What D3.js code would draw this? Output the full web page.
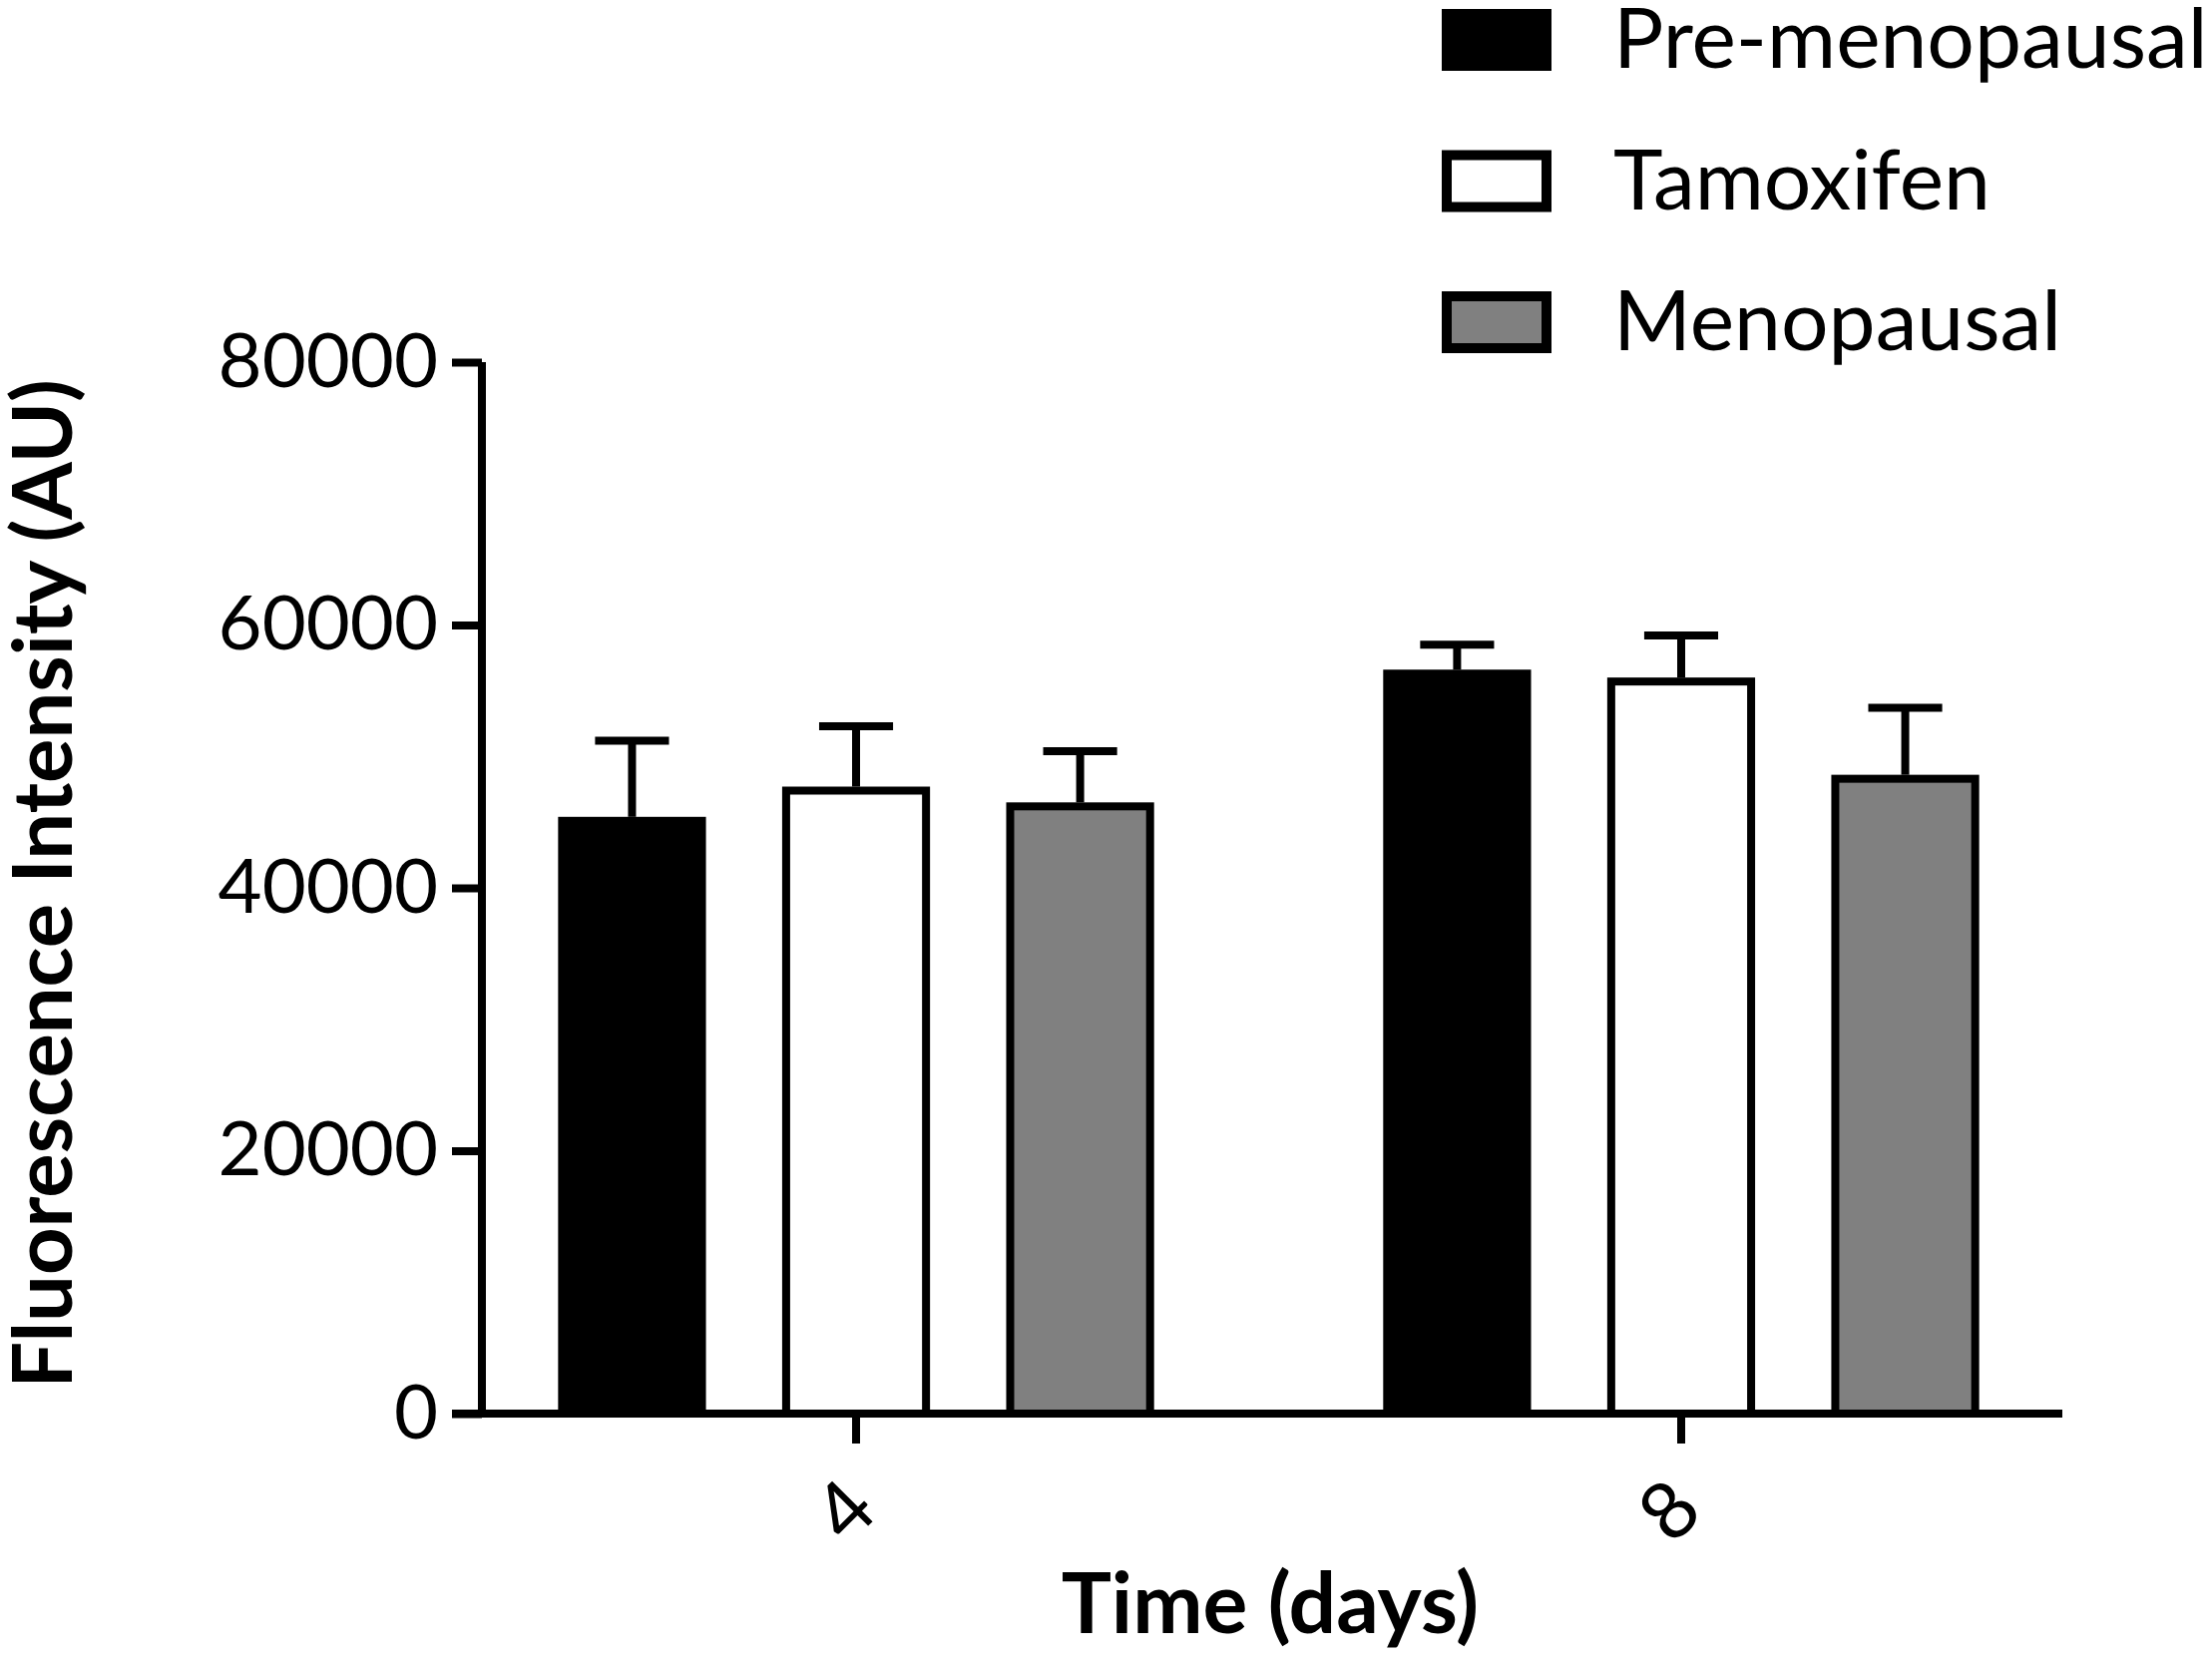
<!DOCTYPE html>
<html>
<head>
<meta charset="utf-8">
<script src="https://cdn.jsdelivr.net/npm/d3@7"></script>
<style>
  html, body { margin: 0; padding: 0; background: #fff; }
  svg { display: block; }
</style>
</head>
<body>
<svg id="chart" width="2217" height="1664"></svg>
<script>
// ---- data ----
const days = ["4", "8"];
const series = ["Pre-menopausal", "Tamoxifen", "Menopausal"];
const day4Means = [45100, 47400, 46200];
const day8Means = [56300, 55700, 48300];
const day4SEM = [6100, 4900, 4200];
const day8SEM = [2200, 3500, 5400];
const yTicks = [0, 20000, 40000, 60000, 80000];
const seriesFill = ["#000000", "#ffffff", "#808080"];

const meansByDay = { "4": day4Means, "8": day8Means };
const semByDay = { "4": day4SEM, "8": day8SEM };
const rows = [];
days.forEach(d => series.forEach((s, i) => rows.push({
  day: d, series: s, idx: i, mean: meansByDay[d][i], sem: semByDay[d][i]
})));

const svg = d3.select("#chart");
const FONT = "Lato, 'Open Sans', sans-serif";
const LW = 8;

const axisX = 483, plotRight = 2067;
const y = d3.scaleLinear().domain([0, 80000]).range([1417, 363]);
const x0 = d3.scaleBand().domain(days).range([axisX, 2060]).paddingInner(0.093).paddingOuter(0);
const x1 = d3.scaleBand().domain(series).range([0, x0.bandwidth()]).padding(0.34);
const fill = d3.scaleOrdinal().domain(series).range(seriesFill);

// bars
const bw = x1.bandwidth();
svg.append("g").selectAll("rect").data(rows).join("rect")
  .attr("x", d => x0(d.day) + x1(d.series) + LW / 2)
  .attr("y", d => y(d.mean))
  .attr("width", bw - LW)
  .attr("height", d => y(0) - y(d.mean))
  .attr("fill", d => fill(d.series))
  .attr("stroke", "#000")
  .attr("stroke-width", LW);

// error bars (upper only)
const eg = svg.append("g").attr("stroke", "#000").attr("stroke-width", LW);
rows.forEach(d => {
  const cx = x0(d.day) + x1(d.series) + bw / 2;
  eg.append("line").attr("x1", cx).attr("x2", cx)
    .attr("y1", y(d.mean) - LW / 2).attr("y2", y(d.mean + d.sem));
  eg.append("line").attr("x1", cx - bw / 4).attr("x2", cx + bw / 4)
    .attr("y1", y(d.mean + d.sem)).attr("y2", y(d.mean + d.sem));
});

// y axis
const yAxis = d3.axisLeft(y).tickValues(yTicks).tickSize(30).tickPadding(14).tickFormat(d3.format("d"));
const gy = svg.append("g").attr("transform", `translate(${axisX},0)`).call(yAxis);
gy.select(".domain").attr("d", `M0,${y(80000)}V${y(0)}`).attr("stroke-width", LW);
gy.selectAll(".tick line").attr("stroke-width", LW);
gy.selectAll(".tick text").attr("font-family", FONT).attr("font-size", 76).attr("fill", "#000");

// x axis
const xCenter = d => x0(d) + x0.bandwidth() / 2;
const gx = svg.append("g").attr("transform", `translate(0,${y(0)})`);
gx.append("line").attr("x1", axisX - 30).attr("x2", plotRight).attr("y1", 0).attr("y2", 0)
  .attr("stroke", "#000").attr("stroke-width", LW);
gx.selectAll(".xt").data(days).join("line").attr("class", "xt")
  .attr("x1", d => xCenter(d)).attr("x2", d => xCenter(d))
  .attr("y1", 0).attr("y2", 30).attr("stroke", "#000").attr("stroke-width", LW);
gx.selectAll(".xl").data(days).join("text").attr("class", "xl")
  .attr("transform", d => `translate(${xCenter(d) - 12},97) rotate(-45)`)
  .attr("text-anchor", "middle").attr("dy", "0.35em")
  .attr("font-family", FONT).attr("font-size", 80).text(d => d);

// axis titles
svg.append("text").attr("transform", `translate(72,${(y(0) + y(80000)) / 2 - 4}) rotate(-90)`)
  .attr("text-anchor", "middle").attr("font-family", FONT).attr("font-weight", "bold")
  .attr("font-size", 83).text("Fluorescence Intensity (AU)");
svg.append("text").attr("x", 1273).attr("y", 1637)
  .attr("text-anchor", "middle").attr("font-family", FONT).attr("font-weight", "bold")
  .attr("font-size", 84).text("Time (days)");

// legend
const lg = svg.append("g");
series.forEach((s, i) => {
  const cy = 40 + i * 141.5;
  lg.append("rect").attr("x", 1450).attr("y", cy - 26).attr("width", 100).attr("height", 52)
    .attr("fill", fill(s)).attr("stroke", "#000").attr("stroke-width", 10);
  lg.append("text").attr("x", 1617).attr("y", cy + 28)
    .attr("font-family", FONT).attr("font-size", 84).text(s);
});
</script>
</body>
</html>
